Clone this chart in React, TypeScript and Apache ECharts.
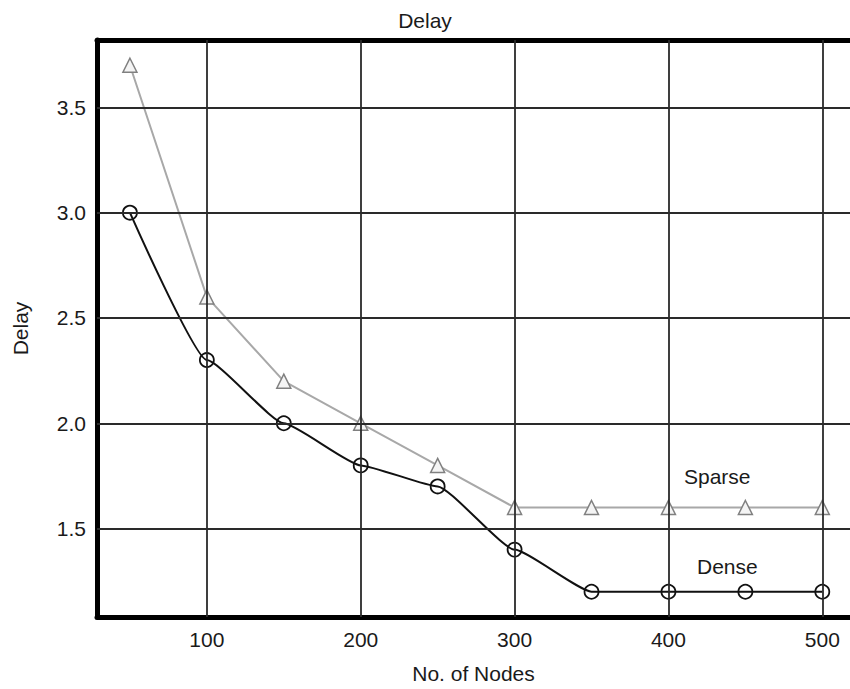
import React, { useEffect, useRef } from "react";
import * as echarts from "echarts";

const nodes = [50, 100, 150, 200, 250, 300, 350, 400, 450, 500];
const sparse = [3.7, 2.6, 2.2, 2.0, 1.8, 1.6, 1.6, 1.6, 1.6, 1.6];
const dense = [3.0, 2.3, 2.0, 1.8, 1.7, 1.4, 1.2, 1.2, 1.2, 1.2];
const xTicks = [100, 200, 300, 400, 500];
const yTicks = [1.5, 2.0, 2.5, 3.0, 3.5];

const FONT = "Liberation Sans, Arial, sans-serif";
const FS = 21;

export default function App() {
  const ref = useRef<HTMLDivElement>(null);
  useEffect(() => {
    document.body.style.margin = "0";
    const chart = echarts.init(ref.current!, null, { renderer: "svg" });
    const gridLine = { color: "#2a2a2a", width: 1.8 };
    chart.setOption({
      animation: false,
      backgroundColor: "#fff",
      title: {
        text: "Delay",
        left: "center",
        top: 5,
        textStyle: { fontFamily: FONT, fontSize: FS, fontWeight: "normal", color: "#1a1a1a" },
      },
      grid: { left: 97, right: 0, top: 40, bottom: 69 },
      xAxis: [
        {
          type: "value",
          min: 28.6,
          max: 518,
          name: "No. of Nodes",
          nameLocation: "middle",
          nameGap: 46,
          nameTextStyle: { fontFamily: FONT, fontSize: FS, color: "#1a1a1a" },
          axisLine: { show: true, onZero: false, lineStyle: { color: "#000", width: 5 } },
          axisTick: { show: false },
          splitLine: { show: false },
          axisLabel: {
            customValues: xTicks,
            fontFamily: FONT,
            fontSize: FS,
            color: "#1a1a1a",
            margin: 12,
          },
        },
        {
          type: "value",
          position: "top",
          min: 28.6,
          max: 518,
          axisLine: { show: true, onZero: false, lineStyle: { color: "#000", width: 5 } },
          axisTick: { show: false },
          axisLabel: { show: false },
          splitLine: { show: false },
        },
      ],
      yAxis: {
        type: "value",
        min: 1.08,
        max: 3.82,
        name: "Delay",
        nameLocation: "middle",
        nameGap: 66,
        nameTextStyle: { fontFamily: FONT, fontSize: FS, color: "#1a1a1a" },
        axisLine: { show: true, onZero: false, lineStyle: { color: "#000", width: 5 } },
        axisTick: { show: false },
        splitLine: { show: false },
        axisLabel: {
          customValues: yTicks,
          formatter: (v: number) => v.toFixed(1),
          fontFamily: FONT,
          fontSize: FS,
          color: "#1a1a1a",
          margin: 11,
        },
      },
      series: [
        {
          type: "line",
          data: [],
          silent: true,
          markLine: {
            silent: true,
            symbol: "none",
            label: { show: false },
            lineStyle: { ...gridLine, type: "solid" },
            data: [
              ...xTicks.map((x) => ({ xAxis: x })),
              ...yTicks.map((y) => ({ yAxis: y })),
            ],
          },
        },
        {
          name: "Sparse",
          type: "line",
          data: nodes.map((n, i) => [n, sparse[i]]),
          symbol: "triangle",
          symbolSize: 14,
          lineStyle: { color: "#a8a8a8", width: 2 },
          itemStyle: { color: "#f4f4f4", borderColor: "#808080", borderWidth: 1.5 },
          z: 3,
        },
        {
          name: "Dense",
          type: "line",
          data: nodes.map((n, i) => [n, dense[i]]),
          smooth: 0.15,
          smoothMonotone: "x",
          symbol: "circle",
          symbolSize: 14,
          lineStyle: { color: "#111", width: 2 },
          itemStyle: { color: "transparent", borderColor: "#111", borderWidth: 1.8 },
          z: 4,
        },
      ],
      graphic: [
        {
          type: "text",
          left: 684,
          top: 466,
          style: { text: "Sparse", font: `${FS}px ${FONT}`, fill: "#1a1a1a" },
        },
        {
          type: "text",
          left: 697,
          top: 556,
          style: { text: "Dense", font: `${FS}px ${FONT}`, fill: "#1a1a1a" },
        },
      ],
    });
    return () => chart.dispose();
  }, []);
  return <div ref={ref} style={{ width: 850, height: 689 }} />;
}
